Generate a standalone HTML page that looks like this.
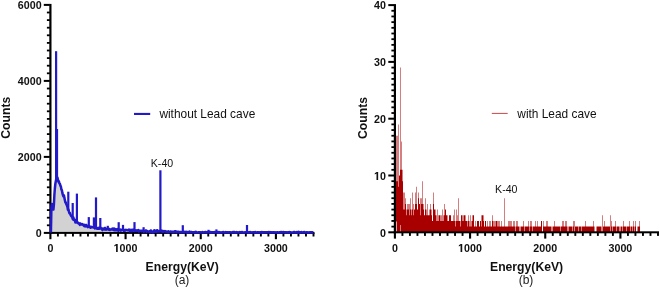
<!DOCTYPE html>
<html><head><meta charset="utf-8"><style>
html,body{margin:0;padding:0;background:#fff;}
body{width:660px;height:289px;overflow:hidden;}
svg{display:block;will-change:transform;}
text{font-family:"Liberation Sans", sans-serif;}

.tk{font-size:10.7px;font-weight:bold;fill:#111;}
.ti{font-size:12.2px;font-weight:bold;fill:#111;}
.lg{font-size:11.9px;fill:#111;}
.sub{font-size:12px;fill:#222;}
.k{font-size:10.6px;fill:#111;}
</style></head><body>
<svg width="660" height="289" viewBox="0 0 660 289">
<polygon points="50.40,232.90 50.90,232.50 51.40,208.00 51.90,204.00 52.40,204.50 52.90,207.50 53.40,209.60 53.90,204.60 54.40,194.50 54.90,188.00 55.40,183.44 55.90,180.67 56.40,178.33 56.90,177.21 57.40,178.29 57.90,179.63 58.40,181.04 58.90,182.46 59.40,183.87 59.90,185.29 60.40,186.71 60.90,188.14 61.40,189.65 61.90,191.26 62.40,192.88 62.90,194.80 63.40,196.39 63.90,197.35 64.40,198.31 64.90,200.20 65.40,202.44 65.90,203.66 66.40,204.87 66.90,206.15 67.40,207.54 67.90,208.92 68.40,210.14 68.90,211.32 69.40,212.50 69.90,213.50 70.40,214.50 70.90,215.44 71.40,216.13 71.90,216.81 72.40,217.50 72.90,218.19 73.40,218.80 73.90,219.30 74.40,219.80 74.90,220.30 75.40,220.80 75.90,221.27 76.40,221.60 76.90,221.93 77.40,222.27 77.90,222.60 78.40,222.93 78.90,223.19 79.40,223.43 79.90,223.68 80.40,223.92 80.90,224.16 81.40,224.40 81.90,224.57 82.40,224.75 82.90,224.92 83.40,225.10 83.90,225.27 84.40,225.44 84.90,225.62 85.40,225.79 85.90,225.97 86.40,226.08 86.90,226.19 87.40,226.29 87.90,226.39 88.40,226.49 88.90,226.60 89.40,226.70 89.90,226.80 90.40,226.91 90.90,227.01 91.40,227.11 91.90,227.21 92.40,227.32 92.90,227.42 93.40,227.51 93.90,227.59 94.40,227.68 94.90,227.77 95.40,227.86 95.90,227.94 96.40,228.03 96.90,228.12 97.40,228.21 97.90,228.29 98.40,228.38 98.90,228.45 99.40,228.51 99.90,228.57 100.40,228.63 100.90,228.70 101.40,228.76 101.90,228.82 102.40,228.88 102.90,228.94 103.40,229.00 103.90,229.06 104.40,229.13 104.90,229.19 105.40,229.22 105.90,229.25 106.40,229.28 106.90,229.31 107.40,229.34 107.90,229.37 108.40,229.40 108.90,229.43 109.40,229.46 109.90,229.49 110.40,229.52 110.90,229.55 111.40,229.58 111.90,229.61 112.40,229.64 112.90,229.67 113.40,229.70 113.90,229.73 114.40,229.76 114.90,229.79 115.40,229.82 115.90,229.84 116.40,229.86 116.90,229.88 117.40,229.90 117.90,229.92 118.40,229.94 118.90,229.96 119.40,229.98 119.90,230.00 120.40,230.02 120.90,230.04 121.40,230.06 121.90,230.08 122.40,230.10 122.90,230.12 123.40,230.14 123.90,230.16 124.40,230.18 124.90,230.20 125.40,230.22 125.90,230.24 126.40,230.26 126.90,230.28 127.40,230.30 127.90,230.32 128.40,230.34 128.90,230.36 129.40,230.38 129.90,230.40 130.40,230.42 130.90,230.44 131.40,230.47 131.90,230.49 132.40,230.51 132.90,230.54 133.40,230.56 133.90,230.58 134.40,230.61 134.90,230.63 135.40,230.65 135.90,230.68 136.40,230.70 136.90,230.72 137.40,230.75 137.90,230.77 138.40,230.79 138.90,230.82 139.40,230.84 139.90,230.86 140.40,230.89 140.90,230.91 141.40,230.93 141.90,230.96 142.40,230.98 142.90,231.00 143.40,231.03 143.90,231.05 144.40,231.07 144.90,231.10 145.40,231.11 145.90,231.12 146.40,231.14 146.90,231.15 147.40,231.16 147.90,231.18 148.40,231.19 148.90,231.20 149.40,231.22 149.90,231.23 150.40,231.24 150.90,231.26 151.40,231.27 151.90,231.28 152.40,231.30 152.90,231.31 153.40,231.32 153.90,231.34 154.40,231.35 154.90,231.36 155.40,231.38 155.90,231.39 156.40,231.40 156.90,231.42 157.40,231.43 157.90,231.44 158.40,231.46 158.90,231.47 159.40,231.48 159.90,231.50 160.40,231.51 160.90,231.52 161.40,231.54 161.90,231.55 162.40,231.56 162.90,231.58 163.40,231.59 163.90,231.60 164.40,231.62 164.90,231.63 165.40,231.64 165.90,231.66 166.40,231.67 166.90,231.68 167.40,231.70 167.90,231.71 168.40,231.72 168.90,231.74 169.40,231.75 169.90,231.76 170.40,231.78 170.90,231.79 171.40,231.80 171.90,231.82 172.40,231.83 172.90,231.84 173.40,231.86 173.90,231.87 174.40,231.88 174.90,231.90 175.40,231.91 175.90,231.92 176.40,231.93 176.90,231.94 177.40,231.95 177.90,231.96 178.40,231.97 178.90,231.98 179.40,231.99 179.90,232.00 180.40,232.01 180.90,232.02 181.40,232.03 181.90,232.04 182.40,232.05 182.90,232.06 183.40,232.07 183.90,232.08 184.40,232.09 184.90,232.10 185.40,232.11 185.90,232.12 186.40,232.13 186.90,232.14 187.40,232.15 187.90,232.16 188.40,232.17 188.90,232.18 189.40,232.19 189.90,232.20 190.40,232.20 190.90,232.20 191.40,232.20 191.90,232.21 192.40,232.21 192.90,232.21 193.40,232.21 193.90,232.21 194.40,232.21 194.90,232.22 195.40,232.22 195.90,232.22 196.40,232.22 196.90,232.22 197.40,232.22 197.90,232.23 198.40,232.23 198.90,232.23 199.40,232.23 199.90,232.23 200.40,232.23 200.90,232.24 201.40,232.24 201.90,232.24 202.40,232.24 202.90,232.24 203.40,232.24 203.90,232.25 204.40,232.25 204.90,232.25 205.40,232.25 205.90,232.25 206.40,232.25 206.90,232.26 207.40,232.26 207.90,232.26 208.40,232.26 208.90,232.26 209.40,232.26 209.90,232.27 210.40,232.27 210.90,232.27 211.40,232.27 211.90,232.27 212.40,232.27 212.90,232.28 213.40,232.28 213.90,232.28 214.40,232.28 214.90,232.28 215.40,232.28 215.90,232.29 216.40,232.29 216.90,232.29 217.40,232.29 217.90,232.29 218.40,232.29 218.90,232.30 219.40,232.30 219.90,232.30 220.40,232.30 220.90,232.30 221.40,232.30 221.90,232.31 222.40,232.31 222.90,232.31 223.40,232.31 223.90,232.31 224.40,232.31 224.90,232.32 225.40,232.32 225.90,232.32 226.40,232.32 226.90,232.32 227.40,232.32 227.90,232.33 228.40,232.33 228.90,232.33 229.40,232.33 229.90,232.33 230.40,232.33 230.90,232.34 231.40,232.34 231.90,232.34 232.40,232.34 232.90,232.34 233.40,232.34 233.90,232.35 234.40,232.35 234.90,232.35 235.40,232.35 235.90,232.35 236.40,232.35 236.90,232.36 237.40,232.36 237.90,232.36 238.40,232.36 238.90,232.36 239.40,232.36 239.90,232.37 240.40,232.37 240.90,232.37 241.40,232.37 241.90,232.37 242.40,232.37 242.90,232.38 243.40,232.38 243.90,232.38 244.40,232.38 244.90,232.38 245.40,232.38 245.90,232.39 246.40,232.39 246.90,232.39 247.40,232.39 247.90,232.39 248.40,232.39 248.90,232.40 249.40,232.40 249.90,232.40 250.40,232.40 250.90,232.40 251.40,232.40 251.90,232.40 252.40,232.40 252.90,232.40 253.40,232.40 253.90,232.40 254.40,232.40 254.90,232.40 255.40,232.40 255.90,232.40 256.40,232.40 256.90,232.40 257.40,232.40 257.90,232.40 258.40,232.40 258.90,232.40 259.40,232.40 259.90,232.40 260.40,232.40 260.90,232.40 261.40,232.40 261.90,232.40 262.40,232.40 262.90,232.40 263.40,232.40 263.90,232.40 264.40,232.40 264.90,232.40 265.40,232.40 265.90,232.40 266.40,232.40 266.90,232.40 267.40,232.40 267.90,232.40 268.40,232.40 268.90,232.40 269.40,232.40 269.90,232.40 270.40,232.40 270.90,232.40 271.40,232.40 271.90,232.40 272.40,232.40 272.90,232.40 273.40,232.40 273.90,232.40 274.40,232.40 274.90,232.40 275.40,232.40 275.90,232.40 276.40,232.40 276.90,232.40 277.40,232.40 277.90,232.40 278.40,232.40 278.90,232.40 279.40,232.40 279.90,232.40 280.40,232.40 280.90,232.40 281.40,232.40 281.90,232.40 282.40,232.40 282.90,232.40 283.40,232.40 283.90,232.40 284.40,232.40 284.90,232.40 285.40,232.40 285.90,232.40 286.40,232.40 286.90,232.40 287.40,232.40 287.90,232.40 288.40,232.40 288.90,232.40 289.40,232.40 289.90,232.40 290.40,232.40 290.90,232.40 291.40,232.40 291.90,232.40 292.40,232.40 292.90,232.40 293.40,232.40 293.90,232.40 294.40,232.40 294.90,232.40 295.40,232.40 295.90,232.40 296.40,232.40 296.90,232.40 297.40,232.40 297.90,232.40 298.40,232.40 298.90,232.40 299.40,232.40 299.90,232.40 300.40,232.40 300.90,232.40 301.40,232.40 301.90,232.40 302.40,232.40 302.90,232.40 303.40,232.40 303.90,232.40 304.40,232.40 304.90,232.40 305.40,232.40 305.90,232.40 306.40,232.40 306.90,232.40 307.40,232.40 307.90,232.40 308.40,232.40 308.90,232.40 309.40,232.40 309.90,232.40 310.40,232.40 310.90,232.40 311.40,232.40 311.90,232.40 312.40,232.40 312.90,232.40 313.40,232.40 313.50,232.90" fill="#d2d2d2"/>
<rect x="49.30" y="3.90" width="2.2" height="230.00" fill="#000"/><rect x="49.30" y="231.90" width="265.20" height="2" fill="#000"/><rect x="43.80" y="231.90" width="6" height="2" fill="#000"/><rect x="43.80" y="155.90" width="6" height="2" fill="#000"/><rect x="43.80" y="79.90" width="6" height="2" fill="#000"/><rect x="43.80" y="3.90" width="6" height="2" fill="#000"/><rect x="46.90" y="224.40" width="3" height="1.8" fill="#000"/><rect x="46.90" y="216.80" width="3" height="1.8" fill="#000"/><rect x="46.90" y="209.20" width="3" height="1.8" fill="#000"/><rect x="46.90" y="201.60" width="3" height="1.8" fill="#000"/><rect x="46.90" y="194.00" width="3" height="1.8" fill="#000"/><rect x="46.90" y="186.40" width="3" height="1.8" fill="#000"/><rect x="46.90" y="178.80" width="3" height="1.8" fill="#000"/><rect x="46.90" y="171.20" width="3" height="1.8" fill="#000"/><rect x="46.90" y="163.60" width="3" height="1.8" fill="#000"/><rect x="46.90" y="148.40" width="3" height="1.8" fill="#000"/><rect x="46.90" y="140.80" width="3" height="1.8" fill="#000"/><rect x="46.90" y="133.20" width="3" height="1.8" fill="#000"/><rect x="46.90" y="125.60" width="3" height="1.8" fill="#000"/><rect x="46.90" y="118.00" width="3" height="1.8" fill="#000"/><rect x="46.90" y="110.40" width="3" height="1.8" fill="#000"/><rect x="46.90" y="102.80" width="3" height="1.8" fill="#000"/><rect x="46.90" y="95.20" width="3" height="1.8" fill="#000"/><rect x="46.90" y="87.60" width="3" height="1.8" fill="#000"/><rect x="46.90" y="72.40" width="3" height="1.8" fill="#000"/><rect x="46.90" y="64.80" width="3" height="1.8" fill="#000"/><rect x="46.90" y="57.20" width="3" height="1.8" fill="#000"/><rect x="46.90" y="49.60" width="3" height="1.8" fill="#000"/><rect x="46.90" y="42.00" width="3" height="1.8" fill="#000"/><rect x="46.90" y="34.40" width="3" height="1.8" fill="#000"/><rect x="46.90" y="26.80" width="3" height="1.8" fill="#000"/><rect x="46.90" y="19.20" width="3" height="1.8" fill="#000"/><rect x="46.90" y="11.60" width="3" height="1.8" fill="#000"/><rect x="49.35" y="232.90" width="2.1" height="6.3" fill="#000"/><rect x="56.97" y="232.90" width="1.9" height="3.6" fill="#000"/><rect x="64.48" y="232.90" width="1.9" height="3.6" fill="#000"/><rect x="72.00" y="232.90" width="1.9" height="3.6" fill="#000"/><rect x="79.52" y="232.90" width="1.9" height="3.6" fill="#000"/><rect x="87.03" y="232.90" width="1.9" height="3.6" fill="#000"/><rect x="94.55" y="232.90" width="1.9" height="3.6" fill="#000"/><rect x="102.07" y="232.90" width="1.9" height="3.6" fill="#000"/><rect x="109.59" y="232.90" width="1.9" height="3.6" fill="#000"/><rect x="117.10" y="232.90" width="1.9" height="3.6" fill="#000"/><rect x="124.52" y="232.90" width="2.1" height="6.3" fill="#000"/><rect x="132.14" y="232.90" width="1.9" height="3.6" fill="#000"/><rect x="139.65" y="232.90" width="1.9" height="3.6" fill="#000"/><rect x="147.17" y="232.90" width="1.9" height="3.6" fill="#000"/><rect x="154.69" y="232.90" width="1.9" height="3.6" fill="#000"/><rect x="162.21" y="232.90" width="1.9" height="3.6" fill="#000"/><rect x="169.72" y="232.90" width="1.9" height="3.6" fill="#000"/><rect x="177.24" y="232.90" width="1.9" height="3.6" fill="#000"/><rect x="184.76" y="232.90" width="1.9" height="3.6" fill="#000"/><rect x="192.27" y="232.90" width="1.9" height="3.6" fill="#000"/><rect x="199.69" y="232.90" width="2.1" height="6.3" fill="#000"/><rect x="207.31" y="232.90" width="1.9" height="3.6" fill="#000"/><rect x="214.82" y="232.90" width="1.9" height="3.6" fill="#000"/><rect x="222.34" y="232.90" width="1.9" height="3.6" fill="#000"/><rect x="229.86" y="232.90" width="1.9" height="3.6" fill="#000"/><rect x="237.38" y="232.90" width="1.9" height="3.6" fill="#000"/><rect x="244.89" y="232.90" width="1.9" height="3.6" fill="#000"/><rect x="252.41" y="232.90" width="1.9" height="3.6" fill="#000"/><rect x="259.93" y="232.90" width="1.9" height="3.6" fill="#000"/><rect x="267.44" y="232.90" width="1.9" height="3.6" fill="#000"/><rect x="274.86" y="232.90" width="2.1" height="6.3" fill="#000"/><rect x="282.48" y="232.90" width="1.9" height="3.6" fill="#000"/><rect x="289.99" y="232.90" width="1.9" height="3.6" fill="#000"/><rect x="297.51" y="232.90" width="1.9" height="3.6" fill="#000"/><rect x="305.03" y="232.90" width="1.9" height="3.6" fill="#000"/><rect x="312.55" y="232.90" width="1.9" height="3.6" fill="#000"/><text x="47.43" y="252.20" class="tk">0</text><path fill="#111" d="M116.07,252.00 L116.07,245.47 L114.35,246.61 L114.35,245.24 L116.23,244.00 L117.72,244.00 L117.72,252.00 Z"/><text x="119.62" y="252.20" class="tk">000</text><text x="188.84" y="252.20" class="tk">2000</text><text x="264.01" y="252.20" class="tk">3000</text><text x="35.65" y="237.10" class="tk">0</text><text x="17.80" y="161.10" class="tk">2000</text><text x="17.80" y="85.10" class="tk">4000</text><text x="17.80" y="9.10" class="tk">6000</text>
<polyline points="50.90,232.50 51.40,208.00 51.90,204.00 52.40,204.50 52.90,207.50 53.40,209.60 53.90,204.60 54.40,194.50 54.90,188.00 55.40,183.44 55.90,180.67 56.40,178.33 56.90,177.21 57.40,177.53 57.90,179.61 58.40,181.61 58.90,181.37 59.40,183.50 59.90,183.75 60.40,185.67 60.90,186.65 61.40,189.46 61.90,190.23 62.40,193.10 62.90,194.93 63.40,196.23 63.90,195.31 64.40,197.88 64.90,200.16 65.40,202.53 65.90,202.42 66.40,204.48 66.90,205.36 67.40,206.88 67.90,209.78 68.40,209.49 68.90,211.30 69.40,213.22 69.90,213.03 70.40,214.41 70.90,215.53 71.40,216.18 71.90,215.82 72.40,217.56 72.90,219.29 73.40,217.55 73.90,220.00 74.40,219.90 74.90,219.78 75.40,222.42 75.90,221.88 76.40,220.63 76.90,221.99 77.40,222.73 77.90,222.45 78.40,223.49 78.90,223.14 79.40,223.97 79.90,224.84 80.40,223.54 80.90,224.27 81.40,224.14 81.90,224.65 82.40,224.08 82.90,224.60 83.40,224.99 83.90,225.78 84.40,226.09 84.90,224.87 85.40,225.34 85.90,226.33 86.40,224.96 86.90,225.92 87.40,226.23 87.90,227.10 88.40,226.88 88.90,226.41 89.40,226.49 89.90,226.66 90.40,227.76 90.90,226.77 91.40,226.94 91.90,227.41 92.40,227.25 92.90,227.31 93.40,226.88 93.90,227.59 94.40,227.43 94.90,228.42 95.40,228.22 95.90,227.93 96.40,228.41 96.90,227.93 97.40,228.80 97.90,228.29 98.40,228.71 98.90,227.72 99.40,228.71 99.90,227.62 100.40,227.49 100.90,228.52 101.40,228.25 101.90,228.91 102.40,230.14 102.90,228.47 103.40,228.65 103.90,229.18 104.40,229.40 104.90,229.09 105.40,229.11 105.90,229.65 106.40,229.58 106.90,228.73 107.40,229.30 107.90,229.39 108.40,228.81 108.90,229.58 109.40,228.98 109.90,230.04 110.40,229.63 110.90,229.60 111.40,229.25 111.90,229.55 112.40,228.52 112.90,229.04 113.40,229.91 113.90,228.54 114.40,230.24 114.90,228.81 115.40,230.24 115.90,229.36 116.40,230.29 116.90,229.95 117.40,229.03 117.90,230.62 118.40,230.75 118.90,229.92 119.40,229.82 119.90,229.91 120.40,229.47 120.90,230.65 121.40,229.75 121.90,230.05 122.40,229.65 122.90,229.76 123.40,229.42 123.90,230.86 124.40,230.09 124.90,230.74 125.40,230.22 125.90,229.85 126.40,230.07 126.90,229.96 127.40,230.30 127.90,230.10 128.40,230.17 128.90,229.58 129.40,229.92 129.90,231.33 130.40,230.04 130.90,229.85 131.40,230.66 131.90,231.28 132.40,229.69 132.90,230.42 133.40,230.20 133.90,229.59 134.40,231.02 134.90,230.62 135.40,230.69 135.90,230.25 136.40,230.95 136.90,230.42 137.40,230.66 137.90,230.15 138.40,230.11 138.90,231.57 139.40,230.55 139.90,231.03 140.40,230.87 140.90,230.66 141.40,230.65 141.90,231.31 142.40,230.81 142.90,230.92 143.40,231.04 143.90,231.71 144.40,231.45 144.90,231.31 145.40,230.79 145.90,230.35 146.40,231.67 146.90,231.69 147.40,231.08 147.90,231.48 148.40,231.63 148.90,231.67 149.40,231.74 149.90,230.97 150.40,232.10 150.90,230.56 151.40,231.76 151.90,231.56 152.40,231.79 152.90,232.37 153.40,232.16 153.90,230.69 154.40,230.40 154.90,231.82 155.40,230.81 155.90,231.38 156.40,231.88 156.90,230.49 157.40,230.24 157.90,231.59 158.40,231.48 158.90,231.33 159.40,231.51 159.90,231.01 160.40,230.66 160.90,231.43 161.40,230.99 161.90,230.63 162.40,231.85 162.90,231.54 163.40,231.82 163.90,231.05 164.40,231.25 164.90,231.07 165.40,231.44 165.90,231.70 166.40,231.49 166.90,231.76 167.40,231.77 167.90,232.17 168.40,231.41 168.90,231.94 169.40,231.73 169.90,231.76 170.40,231.45 170.90,231.69 171.40,231.97 171.90,231.80 172.40,231.85 172.90,231.78 173.40,232.12 173.90,231.87 174.40,231.39 174.90,231.74 175.40,231.47 175.90,231.19 176.40,231.81 176.90,232.24 177.40,231.96 177.90,231.69 178.40,231.76 178.90,232.23 179.40,232.02 179.90,232.01 180.40,232.00 180.90,232.03 181.40,232.21 181.90,232.16 182.40,232.10 182.90,231.82 183.40,232.18 183.90,231.92 184.40,232.33 184.90,231.81 185.40,232.08 185.90,232.12 186.40,231.83 186.90,232.53 187.40,232.48 187.90,232.05 188.40,232.34 188.90,232.26 189.40,231.60 189.90,232.25 190.40,232.19 190.90,232.22 191.40,231.96 191.90,232.15 192.40,232.17 192.90,232.48 193.40,232.29 193.90,232.21 194.40,232.56 194.90,232.09 195.40,232.13 195.90,231.81 196.40,232.57 196.90,232.44 197.40,232.43 197.90,232.38 198.40,232.25 198.90,232.28 199.40,232.17 199.90,232.19 200.40,232.25 200.90,232.58 201.40,232.36 201.90,232.23 202.40,232.11 202.90,232.10 203.40,232.60 203.90,232.36 204.40,232.26 204.90,232.17 205.40,232.00 205.90,232.24 206.40,232.45 206.90,232.17 207.40,232.21 207.90,232.21 208.40,232.29 208.90,231.90 209.40,232.21 209.90,232.07 210.40,232.47 210.90,232.10 211.40,232.40 211.90,232.60 212.40,232.20 212.90,232.14 213.40,232.32 213.90,232.28 214.40,232.06 214.90,232.39 215.40,232.60 215.90,232.23 216.40,232.24 216.90,232.05 217.40,232.36 217.90,232.01 218.40,232.05 218.90,232.58 219.40,232.09 219.90,232.54 220.40,232.60 220.90,232.36 221.40,232.43 221.90,232.60 222.40,232.26 222.90,232.18 223.40,232.01 223.90,232.32 224.40,232.60 224.90,232.53 225.40,232.11 225.90,232.13 226.40,232.21 226.90,232.39 227.40,232.28 227.90,232.37 228.40,232.39 228.90,232.26 229.40,232.32 229.90,232.38 230.40,232.32 230.90,232.45 231.40,232.60 231.90,232.47 232.40,232.35 232.90,231.96 233.40,232.43 233.90,231.91 234.40,232.03 234.90,232.54 235.40,232.51 235.90,232.32 236.40,231.97 236.90,232.27 237.40,232.21 237.90,232.50 238.40,232.60 238.90,232.41 239.40,232.19 239.90,232.10 240.40,232.36 240.90,232.33 241.40,232.11 241.90,232.40 242.40,232.12 242.90,232.60 243.40,232.60 243.90,232.60 244.40,232.27 244.90,232.50 245.40,232.35 245.90,232.30 246.40,232.31 246.90,232.10 247.40,232.07 247.90,232.57 248.40,232.35 248.90,232.45 249.40,232.60 249.90,232.01 250.40,232.22 250.90,232.44 251.40,232.49 251.90,232.32 252.40,232.60 252.90,232.45 253.40,232.13 253.90,232.19 254.40,232.58 254.90,232.50 255.40,231.97 255.90,232.60 256.40,232.53 256.90,232.60 257.40,232.31 257.90,232.33 258.40,232.15 258.90,232.60 259.40,232.36 259.90,232.60 260.40,232.25 260.90,232.44 261.40,232.02 261.90,232.31 262.40,232.60 262.90,232.12 263.40,232.60 263.90,232.48 264.40,232.17 264.90,232.29 265.40,232.30 265.90,232.39 266.40,232.28 266.90,232.21 267.40,232.33 267.90,232.17 268.40,232.11 268.90,232.39 269.40,232.60 269.90,232.06 270.40,232.40 270.90,232.25 271.40,232.18 271.90,232.59 272.40,232.28 272.90,232.60 273.40,232.22 273.90,232.49 274.40,232.35 274.90,232.23 275.40,232.53 275.90,232.37 276.40,232.54 276.90,232.39 277.40,232.16 277.90,232.38 278.40,232.41 278.90,232.60 279.40,232.20 279.90,232.39 280.40,232.01 280.90,232.55 281.40,232.16 281.90,231.99 282.40,232.39 282.90,232.60 283.40,232.06 283.90,232.16 284.40,232.23 284.90,232.15 285.40,232.49 285.90,232.22 286.40,232.24 286.90,232.53 287.40,232.23 287.90,232.50 288.40,232.18 288.90,232.13 289.40,231.99 289.90,232.60 290.40,232.33 290.90,232.45 291.40,232.39 291.90,232.44 292.40,232.41 292.90,232.60 293.40,232.17 293.90,232.05 294.40,232.17 294.90,232.10 295.40,232.57 295.90,232.58 296.40,232.18 296.90,232.09 297.40,232.32 297.90,232.60 298.40,231.77 298.90,232.52 299.40,232.16 299.90,232.60 300.40,232.16 300.90,232.34 301.40,232.06 301.90,232.18 302.40,232.60 302.90,232.58 303.40,232.31 303.90,232.20 304.40,231.97 304.90,232.31 305.40,232.39 305.90,232.38 306.40,232.38 306.90,232.15 307.40,232.39 307.90,232.39 308.40,232.60 308.90,232.60 309.40,232.37 309.90,232.23 310.40,232.39 310.90,232.26 311.40,232.23 311.90,232.39 312.40,232.17 312.90,232.54 313.40,232.38" fill="none" stroke="#2219c8" stroke-width="2.5" stroke-linejoin="round"/><rect x="55.00" y="51.20" width="2.2" height="128.86" fill="#2219c8"/><rect x="55.90" y="129.00" width="2.2" height="48.93" fill="#2219c8"/><rect x="67.20" y="191.70" width="2.2" height="18.71" fill="#2219c8"/><rect x="71.60" y="203.00" width="2.2" height="15.41" fill="#2219c8"/><rect x="75.80" y="193.60" width="2.2" height="28.83" fill="#2219c8"/><rect x="87.70" y="217.10" width="2.2" height="9.98" fill="#2219c8"/><rect x="92.80" y="217.40" width="2.2" height="10.69" fill="#2219c8"/><rect x="94.90" y="197.40" width="2.2" height="31.06" fill="#2219c8"/><rect x="99.20" y="218.00" width="2.2" height="11.12" fill="#2219c8"/><rect x="103.90" y="226.80" width="2.2" height="2.90" fill="#2219c8"/><rect x="106.70" y="225.80" width="2.2" height="4.07" fill="#2219c8"/><rect x="117.60" y="222.20" width="2.2" height="8.25" fill="#2219c8"/><rect x="121.90" y="224.90" width="2.2" height="5.72" fill="#2219c8"/><rect x="133.40" y="222.10" width="2.2" height="9.01" fill="#2219c8"/><rect x="142.50" y="227.20" width="2.2" height="4.33" fill="#2219c8"/><rect x="159.30" y="170.30" width="2.2" height="61.71" fill="#2219c8"/><rect x="181.70" y="225.20" width="2.2" height="7.36" fill="#2219c8"/><rect x="207.40" y="229.80" width="2.2" height="2.96" fill="#2219c8"/><rect x="215.30" y="229.40" width="2.2" height="3.39" fill="#2219c8"/><rect x="245.90" y="225.00" width="2.2" height="7.89" fill="#2219c8"/>
<text x="182.2" y="270.9" text-anchor="middle" class="ti">Energy(KeV)</text>
<text x="182" y="284" text-anchor="middle" class="sub">(a)</text>
<text transform="translate(9.6,117.7) rotate(-90)" text-anchor="middle" class="ti">Counts</text>
<rect x="134" y="112.9" width="16.2" height="2.1" fill="#2219c8"/>
<text x="159.4" y="117.6" class="lg">without Lead cave</text>
<text x="162" y="166.5" text-anchor="middle" class="k">K-40</text>
<path fill="#a80000" d="M395.50,232.30L395.50,175.50L396.00,175.50L396.00,135.74L396.50,135.74L396.50,181.18L397.00,181.18L397.00,135.74L397.50,135.74L397.50,181.18L398.00,181.18L398.00,186.86L398.50,186.86L398.50,124.38L399.00,124.38L399.00,175.50L399.50,175.50L399.50,175.50L400.00,175.50L400.00,169.82L400.50,169.82L400.50,67.58L401.00,67.58L401.00,169.82L401.50,169.82L401.50,141.42L402.00,141.42L402.00,169.82L402.50,169.82L402.50,181.18L403.00,181.18L403.00,192.54L403.50,192.54L403.50,209.58L404.00,209.58L404.00,192.54L404.50,192.54L404.50,209.58L405.00,209.58L405.00,198.22L405.50,198.22L405.50,203.90L406.00,203.90L406.00,209.58L406.50,209.58L406.50,215.26L407.00,215.26L407.00,209.58L407.50,209.58L407.50,203.90L408.00,203.90L408.00,203.90L408.50,203.90L408.50,209.58L409.00,209.58L409.00,215.26L409.50,215.26L409.50,203.90L410.00,203.90L410.00,209.58L410.50,209.58L410.50,198.22L411.00,198.22L411.00,209.58L411.50,209.58L411.50,215.26L412.00,215.26L412.00,192.54L412.50,192.54L412.50,209.58L413.00,209.58L413.00,215.26L413.50,215.26L413.50,203.90L414.00,203.90L414.00,209.58L414.50,209.58L414.50,209.58L415.00,209.58L415.00,203.90L415.50,203.90L415.50,192.54L416.00,192.54L416.00,203.90L416.50,203.90L416.50,186.86L417.00,186.86L417.00,209.58L417.50,209.58L417.50,209.58L418.00,209.58L418.00,198.22L418.50,198.22L418.50,192.54L419.00,192.54L419.00,203.90L419.50,203.90L419.50,203.90L420.00,203.90L420.00,215.26L420.50,215.26L420.50,198.22L421.00,198.22L421.00,203.90L421.50,203.90L421.50,198.22L422.00,198.22L422.00,203.90L422.50,203.90L422.50,181.18L423.00,181.18L423.00,209.58L423.50,209.58L423.50,203.90L424.00,203.90L424.00,215.26L424.50,215.26L424.50,215.26L425.00,215.26L425.00,209.58L425.50,209.58L425.50,198.22L426.00,198.22L426.00,215.26L426.50,215.26L426.50,209.58L427.00,209.58L427.00,215.26L427.50,215.26L427.50,203.90L428.00,203.90L428.00,215.26L428.50,215.26L428.50,215.26L429.00,215.26L429.00,215.26L429.50,215.26L429.50,209.58L430.00,209.58L430.00,203.90L430.50,203.90L430.50,209.58L431.00,209.58L431.00,215.26L431.50,215.26L431.50,209.58L432.00,209.58L432.00,220.94L432.50,220.94L432.50,220.94L433.00,220.94L433.00,203.90L433.50,203.90L433.50,192.54L434.00,192.54L434.00,209.58L434.50,209.58L434.50,209.58L435.00,209.58L435.00,215.26L435.50,215.26L435.50,209.58L436.00,209.58L436.00,215.26L436.50,215.26L436.50,220.94L437.00,220.94L437.00,220.94L437.50,220.94L437.50,209.58L438.00,209.58L438.00,220.94L438.50,220.94L438.50,215.26L439.00,215.26L439.00,215.26L439.50,215.26L439.50,215.26L440.00,215.26L440.00,220.94L440.50,220.94L440.50,215.26L441.00,215.26L441.00,220.94L441.50,220.94L441.50,215.26L442.00,215.26L442.00,220.94L442.50,220.94L442.50,209.58L443.00,209.58L443.00,220.94L443.50,220.94L443.50,215.26L444.00,215.26L444.00,203.90L444.50,203.90L444.50,215.26L445.00,215.26L445.00,209.58L445.50,209.58L445.50,209.58L446.00,209.58L446.00,215.26L446.50,215.26L446.50,215.26L447.00,215.26L447.00,220.94L447.50,220.94L447.50,215.26L448.00,215.26L448.00,220.94L448.50,220.94L448.50,220.94L449.00,220.94L449.00,215.26L449.50,215.26L449.50,215.26L450.00,215.26L450.00,215.26L450.50,215.26L450.50,215.26L451.00,215.26L451.00,220.94L451.50,220.94L451.50,220.94L452.00,220.94L452.00,220.94L452.50,220.94L452.50,220.94L453.00,220.94L453.00,220.94L453.50,220.94L453.50,215.26L454.00,215.26L454.00,220.94L454.50,220.94L454.50,209.58L455.00,209.58L455.00,220.94L455.50,220.94L455.50,226.62L456.00,226.62L456.00,220.94L456.50,220.94L456.50,209.58L457.00,209.58L457.00,215.26L457.50,215.26L457.50,220.94L458.00,220.94L458.00,198.22L458.50,198.22L458.50,220.94L459.00,220.94L459.00,220.94L459.50,220.94L459.50,220.94L460.00,220.94L460.00,226.62L460.50,226.62L460.50,220.94L461.00,220.94L461.00,215.26L461.50,215.26L461.50,215.26L462.00,215.26L462.00,220.94L462.50,220.94L462.50,215.26L463.00,215.26L463.00,215.26L463.50,215.26L463.50,220.94L464.00,220.94L464.00,215.26L464.50,215.26L464.50,215.26L465.00,215.26L465.00,215.26L465.50,215.26L465.50,220.94L466.00,220.94L466.00,220.94L466.50,220.94L466.50,220.94L467.00,220.94L467.00,220.94L467.50,220.94L467.50,226.62L468.00,226.62L468.00,220.94L468.50,220.94L468.50,215.26L469.00,215.26L469.00,220.94L469.50,220.94L469.50,226.62L470.00,226.62L470.00,215.26L470.50,215.26L470.50,226.62L471.00,226.62L471.00,226.62L471.50,226.62L471.50,220.94L472.00,220.94L472.00,220.94L472.50,220.94L472.50,215.26L473.00,215.26L473.00,215.26L473.50,215.26L473.50,215.26L474.00,215.26L474.00,226.62L474.50,226.62L474.50,226.62L475.00,226.62L475.00,226.62L475.50,226.62L475.50,220.94L476.00,220.94L476.00,226.62L476.50,226.62L476.50,226.62L477.00,226.62L477.00,220.94L477.50,220.94L477.50,220.94L478.00,220.94L478.00,220.94L478.50,220.94L478.50,220.94L479.00,220.94L479.00,226.62L479.50,226.62L479.50,226.62L480.00,226.62L480.00,220.94L480.50,220.94L480.50,220.94L481.00,220.94L481.00,215.26L481.50,215.26L481.50,226.62L482.00,226.62L482.00,215.26L482.50,215.26L482.50,215.26L483.00,215.26L483.00,220.94L483.50,220.94L483.50,215.26L484.00,215.26L484.00,226.62L484.50,226.62L484.50,226.62L485.00,226.62L485.00,220.94L485.50,220.94L485.50,220.94L486.00,220.94L486.00,226.62L486.50,226.62L486.50,226.62L487.00,226.62L487.00,226.62L487.50,226.62L487.50,220.94L488.00,220.94L488.00,226.62L488.50,226.62L488.50,226.62L489.00,226.62L489.00,220.94L489.50,220.94L489.50,226.62L490.00,226.62L490.00,220.94L490.50,220.94L490.50,226.62L491.00,226.62L491.00,226.62L491.50,226.62L491.50,226.62L492.00,226.62L492.00,215.26L492.50,215.26L492.50,220.94L493.00,220.94L493.00,226.62L493.50,226.62L493.50,220.94L494.00,220.94L494.00,220.94L494.50,220.94L494.50,226.62L495.00,226.62L495.00,220.94L495.50,220.94L495.50,226.62L496.00,226.62L496.00,220.94L496.50,220.94L496.50,220.94L497.00,220.94L497.00,220.94L497.50,220.94L497.50,226.62L498.00,226.62L498.00,226.62L498.50,226.62L498.50,220.94L499.00,220.94L499.00,220.94L499.50,220.94L499.50,226.62L500.00,226.62L500.00,226.62L500.50,226.62L500.50,226.62L501.00,226.62L501.00,220.94L501.50,220.94L501.50,226.62L502.00,226.62L502.00,226.62L502.50,226.62L502.50,226.62L503.00,226.62L503.00,226.62L503.50,226.62L503.50,226.62L504.00,226.62L504.00,198.22L504.50,198.22L504.50,226.62L505.00,226.62L505.00,226.62L505.50,226.62L505.50,226.62L506.00,226.62L506.00,226.62L506.50,226.62L506.50,226.62L507.00,226.62L507.00,226.62L507.50,226.62L507.50,226.62L508.00,226.62L508.00,220.94L508.50,220.94L508.50,226.62L509.00,226.62L509.00,220.94L509.50,220.94L509.50,226.62L510.00,226.62L510.00,220.94L510.50,220.94L510.50,226.62L511.00,226.62L511.00,226.62L511.50,226.62L511.50,220.94L512.00,220.94L512.00,226.62L512.50,226.62L512.50,226.62L513.00,226.62L513.00,226.62L513.50,226.62L513.50,220.94L514.00,220.94L514.00,226.62L514.50,226.62L514.50,220.94L515.00,220.94L515.00,226.62L515.50,226.62L515.50,232.30L516.00,232.30L516.00,226.62L516.50,226.62L516.50,220.94L517.00,220.94L517.00,226.62L517.50,226.62L517.50,220.94L518.00,220.94L518.00,226.62L518.50,226.62L518.50,226.62L519.00,226.62L519.00,226.62L519.50,226.62L519.50,232.30L520.00,232.30L520.00,226.62L520.50,226.62L520.50,232.30L521.00,232.30L521.00,226.62L521.50,226.62L521.50,226.62L522.00,226.62L522.00,226.62L522.50,226.62L522.50,226.62L523.00,226.62L523.00,220.94L523.50,220.94L523.50,226.62L524.00,226.62L524.00,232.30L524.50,232.30L524.50,226.62L525.00,226.62L525.00,226.62L525.50,226.62L525.50,226.62L526.00,226.62L526.00,226.62L526.50,226.62L526.50,226.62L527.00,226.62L527.00,226.62L527.50,226.62L527.50,226.62L528.00,226.62L528.00,226.62L528.50,226.62L528.50,220.94L529.00,220.94L529.00,226.62L529.50,226.62L529.50,232.30L530.00,232.30L530.00,220.94L530.50,220.94L530.50,226.62L531.00,226.62L531.00,226.62L531.50,226.62L531.50,220.94L532.00,220.94L532.00,226.62L532.50,226.62L532.50,232.30L533.00,232.30L533.00,226.62L533.50,226.62L533.50,226.62L534.00,226.62L534.00,226.62L534.50,226.62L534.50,226.62L535.00,226.62L535.00,226.62L535.50,226.62L535.50,220.94L536.00,220.94L536.00,226.62L536.50,226.62L536.50,226.62L537.00,226.62L537.00,226.62L537.50,226.62L537.50,220.94L538.00,220.94L538.00,226.62L538.50,226.62L538.50,226.62L539.00,226.62L539.00,226.62L539.50,226.62L539.50,226.62L540.00,226.62L540.00,226.62L540.50,226.62L540.50,226.62L541.00,226.62L541.00,220.94L541.50,220.94L541.50,220.94L542.00,220.94L542.00,232.30L542.50,232.30L542.50,232.30L543.00,232.30L543.00,220.94L543.50,220.94L543.50,226.62L544.00,226.62L544.00,226.62L544.50,226.62L544.50,226.62L545.00,226.62L545.00,226.62L545.50,226.62L545.50,226.62L546.00,226.62L546.00,220.94L546.50,220.94L546.50,226.62L547.00,226.62L547.00,226.62L547.50,226.62L547.50,220.94L548.00,220.94L548.00,226.62L548.50,226.62L548.50,226.62L549.00,226.62L549.00,226.62L549.50,226.62L549.50,226.62L550.00,226.62L550.00,226.62L550.50,226.62L550.50,226.62L551.00,226.62L551.00,226.62L551.50,226.62L551.50,232.30L552.00,232.30L552.00,226.62L552.50,226.62L552.50,232.30L553.00,232.30L553.00,226.62L553.50,226.62L553.50,226.62L554.00,226.62L554.00,220.94L554.50,220.94L554.50,226.62L555.00,226.62L555.00,226.62L555.50,226.62L555.50,226.62L556.00,226.62L556.00,226.62L556.50,226.62L556.50,226.62L557.00,226.62L557.00,226.62L557.50,226.62L557.50,226.62L558.00,226.62L558.00,226.62L558.50,226.62L558.50,226.62L559.00,226.62L559.00,226.62L559.50,226.62L559.50,226.62L560.00,226.62L560.00,232.30L560.50,232.30L560.50,226.62L561.00,226.62L561.00,226.62L561.50,226.62L561.50,226.62L562.00,226.62L562.00,226.62L562.50,226.62L562.50,220.94L563.00,220.94L563.00,226.62L563.50,226.62L563.50,220.94L564.00,220.94L564.00,226.62L564.50,226.62L564.50,226.62L565.00,226.62L565.00,220.94L565.50,220.94L565.50,226.62L566.00,226.62L566.00,226.62L566.50,226.62L566.50,220.94L567.00,220.94L567.00,226.62L567.50,226.62L567.50,232.30L568.00,232.30L568.00,232.30L568.50,232.30L568.50,226.62L569.00,226.62L569.00,226.62L569.50,226.62L569.50,226.62L570.00,226.62L570.00,226.62L570.50,226.62L570.50,226.62L571.00,226.62L571.00,226.62L571.50,226.62L571.50,226.62L572.00,226.62L572.00,226.62L572.50,226.62L572.50,232.30L573.00,232.30L573.00,226.62L573.50,226.62L573.50,220.94L574.00,220.94L574.00,220.94L574.50,220.94L574.50,232.30L575.00,232.30L575.00,226.62L575.50,226.62L575.50,226.62L576.00,226.62L576.00,226.62L576.50,226.62L576.50,226.62L577.00,226.62L577.00,226.62L577.50,226.62L577.50,226.62L578.00,226.62L578.00,232.30L578.50,232.30L578.50,226.62L579.00,226.62L579.00,226.62L579.50,226.62L579.50,226.62L580.00,226.62L580.00,226.62L580.50,226.62L580.50,226.62L581.00,226.62L581.00,226.62L581.50,226.62L581.50,232.30L582.00,232.30L582.00,226.62L582.50,226.62L582.50,226.62L583.00,226.62L583.00,226.62L583.50,226.62L583.50,226.62L584.00,226.62L584.00,226.62L584.50,226.62L584.50,226.62L585.00,226.62L585.00,226.62L585.50,226.62L585.50,220.94L586.00,220.94L586.00,226.62L586.50,226.62L586.50,226.62L587.00,226.62L587.00,226.62L587.50,226.62L587.50,226.62L588.00,226.62L588.00,226.62L588.50,226.62L588.50,226.62L589.00,226.62L589.00,226.62L589.50,226.62L589.50,226.62L590.00,226.62L590.00,226.62L590.50,226.62L590.50,226.62L591.00,226.62L591.00,226.62L591.50,226.62L591.50,226.62L592.00,226.62L592.00,226.62L592.50,226.62L592.50,226.62L593.00,226.62L593.00,226.62L593.50,226.62L593.50,220.94L594.00,220.94L594.00,232.30L594.50,232.30L594.50,226.62L595.00,226.62L595.00,232.30L595.50,232.30L595.50,232.30L596.00,232.30L596.00,226.62L596.50,226.62L596.50,232.30L597.00,232.30L597.00,226.62L597.50,226.62L597.50,226.62L598.00,226.62L598.00,226.62L598.50,226.62L598.50,226.62L599.00,226.62L599.00,226.62L599.50,226.62L599.50,226.62L600.00,226.62L600.00,226.62L600.50,226.62L600.50,226.62L601.00,226.62L601.00,232.30L601.50,232.30L601.50,226.62L602.00,226.62L602.00,232.30L602.50,232.30L602.50,215.26L603.00,215.26L603.00,226.62L603.50,226.62L603.50,226.62L604.00,226.62L604.00,220.94L604.50,220.94L604.50,226.62L605.00,226.62L605.00,226.62L605.50,226.62L605.50,226.62L606.00,226.62L606.00,226.62L606.50,226.62L606.50,226.62L607.00,226.62L607.00,226.62L607.50,226.62L607.50,226.62L608.00,226.62L608.00,226.62L608.50,226.62L608.50,226.62L609.00,226.62L609.00,226.62L609.50,226.62L609.50,226.62L610.00,226.62L610.00,232.30L610.50,232.30L610.50,215.26L611.00,215.26L611.00,226.62L611.50,226.62L611.50,220.94L612.00,220.94L612.00,232.30L612.50,232.30L612.50,226.62L613.00,226.62L613.00,226.62L613.50,226.62L613.50,226.62L614.00,226.62L614.00,226.62L614.50,226.62L614.50,226.62L615.00,226.62L615.00,226.62L615.50,226.62L615.50,220.94L616.00,220.94L616.00,226.62L616.50,226.62L616.50,232.30L617.00,232.30L617.00,226.62L617.50,226.62L617.50,226.62L618.00,226.62L618.00,226.62L618.50,226.62L618.50,226.62L619.00,226.62L619.00,232.30L619.50,232.30L619.50,226.62L620.00,226.62L620.00,232.30L620.50,232.30L620.50,226.62L621.00,226.62L621.00,226.62L621.50,226.62L621.50,226.62L622.00,226.62L622.00,226.62L622.50,226.62L622.50,232.30L623.00,232.30L623.00,220.94L623.50,220.94L623.50,226.62L624.00,226.62L624.00,226.62L624.50,226.62L624.50,226.62L625.00,226.62L625.00,226.62L625.50,226.62L625.50,226.62L626.00,226.62L626.00,226.62L626.50,226.62L626.50,232.30L627.00,232.30L627.00,226.62L627.50,226.62L627.50,226.62L628.00,226.62L628.00,226.62L628.50,226.62L628.50,226.62L629.00,226.62L629.00,226.62L629.50,226.62L629.50,220.94L630.00,220.94L630.00,226.62L630.50,226.62L630.50,232.30L631.00,232.30L631.00,226.62L631.50,226.62L631.50,226.62L632.00,226.62L632.00,226.62L632.50,226.62L632.50,232.30L633.00,232.30L633.00,226.62L633.50,226.62L633.50,220.94L634.00,220.94L634.00,232.30L634.50,232.30L634.50,226.62L635.00,226.62L635.00,226.62L635.50,226.62L635.50,220.94L636.00,220.94L636.00,232.30L636.50,232.30L636.50,232.30L637.00,232.30L637.00,232.30L637.50,232.30L637.50,226.62L638.00,226.62L638.00,226.62L638.50,226.62L638.50,226.62L639.00,226.62L639.00,226.62L639.50,226.62L639.50,220.94L640.00,220.94L640.00,232.30Z"/><rect x="396.1" y="221.5" width="0.8" height="10.5" fill="#f0d0d0"/><rect x="400.0" y="225" width="0.6" height="7" fill="#f0d0d0"/>
<rect x="393.80" y="4.10" width="2.2" height="229.20" fill="#000"/><rect x="393.80" y="231.30" width="265.20" height="2" fill="#000"/><rect x="388.30" y="231.30" width="6" height="2" fill="#000"/><rect x="388.30" y="174.50" width="6" height="2" fill="#000"/><rect x="388.30" y="117.70" width="6" height="2" fill="#000"/><rect x="388.30" y="60.90" width="6" height="2" fill="#000"/><rect x="388.30" y="4.10" width="6" height="2" fill="#000"/><rect x="391.40" y="225.72" width="3" height="1.8" fill="#000"/><rect x="391.40" y="220.04" width="3" height="1.8" fill="#000"/><rect x="391.40" y="214.36" width="3" height="1.8" fill="#000"/><rect x="391.40" y="208.68" width="3" height="1.8" fill="#000"/><rect x="391.40" y="203.00" width="3" height="1.8" fill="#000"/><rect x="391.40" y="197.32" width="3" height="1.8" fill="#000"/><rect x="391.40" y="191.64" width="3" height="1.8" fill="#000"/><rect x="391.40" y="185.96" width="3" height="1.8" fill="#000"/><rect x="391.40" y="180.28" width="3" height="1.8" fill="#000"/><rect x="391.40" y="168.92" width="3" height="1.8" fill="#000"/><rect x="391.40" y="163.24" width="3" height="1.8" fill="#000"/><rect x="391.40" y="157.56" width="3" height="1.8" fill="#000"/><rect x="391.40" y="151.88" width="3" height="1.8" fill="#000"/><rect x="391.40" y="146.20" width="3" height="1.8" fill="#000"/><rect x="391.40" y="140.52" width="3" height="1.8" fill="#000"/><rect x="391.40" y="134.84" width="3" height="1.8" fill="#000"/><rect x="391.40" y="129.16" width="3" height="1.8" fill="#000"/><rect x="391.40" y="123.48" width="3" height="1.8" fill="#000"/><rect x="391.40" y="112.12" width="3" height="1.8" fill="#000"/><rect x="391.40" y="106.44" width="3" height="1.8" fill="#000"/><rect x="391.40" y="100.76" width="3" height="1.8" fill="#000"/><rect x="391.40" y="95.08" width="3" height="1.8" fill="#000"/><rect x="391.40" y="89.40" width="3" height="1.8" fill="#000"/><rect x="391.40" y="83.72" width="3" height="1.8" fill="#000"/><rect x="391.40" y="78.04" width="3" height="1.8" fill="#000"/><rect x="391.40" y="72.36" width="3" height="1.8" fill="#000"/><rect x="391.40" y="66.68" width="3" height="1.8" fill="#000"/><rect x="391.40" y="55.32" width="3" height="1.8" fill="#000"/><rect x="391.40" y="49.64" width="3" height="1.8" fill="#000"/><rect x="391.40" y="43.96" width="3" height="1.8" fill="#000"/><rect x="391.40" y="38.28" width="3" height="1.8" fill="#000"/><rect x="391.40" y="32.60" width="3" height="1.8" fill="#000"/><rect x="391.40" y="26.92" width="3" height="1.8" fill="#000"/><rect x="391.40" y="21.24" width="3" height="1.8" fill="#000"/><rect x="391.40" y="15.56" width="3" height="1.8" fill="#000"/><rect x="391.40" y="9.88" width="3" height="1.8" fill="#000"/><rect x="393.85" y="232.30" width="2.1" height="6.3" fill="#000"/><rect x="401.47" y="232.30" width="1.9" height="3.6" fill="#000"/><rect x="408.98" y="232.30" width="1.9" height="3.6" fill="#000"/><rect x="416.50" y="232.30" width="1.9" height="3.6" fill="#000"/><rect x="424.02" y="232.30" width="1.9" height="3.6" fill="#000"/><rect x="431.53" y="232.30" width="1.9" height="3.6" fill="#000"/><rect x="439.05" y="232.30" width="1.9" height="3.6" fill="#000"/><rect x="446.57" y="232.30" width="1.9" height="3.6" fill="#000"/><rect x="454.09" y="232.30" width="1.9" height="3.6" fill="#000"/><rect x="461.60" y="232.30" width="1.9" height="3.6" fill="#000"/><rect x="469.02" y="232.30" width="2.1" height="6.3" fill="#000"/><rect x="476.64" y="232.30" width="1.9" height="3.6" fill="#000"/><rect x="484.15" y="232.30" width="1.9" height="3.6" fill="#000"/><rect x="491.67" y="232.30" width="1.9" height="3.6" fill="#000"/><rect x="499.19" y="232.30" width="1.9" height="3.6" fill="#000"/><rect x="506.70" y="232.30" width="1.9" height="3.6" fill="#000"/><rect x="514.22" y="232.30" width="1.9" height="3.6" fill="#000"/><rect x="521.74" y="232.30" width="1.9" height="3.6" fill="#000"/><rect x="529.26" y="232.30" width="1.9" height="3.6" fill="#000"/><rect x="536.77" y="232.30" width="1.9" height="3.6" fill="#000"/><rect x="544.19" y="232.30" width="2.1" height="6.3" fill="#000"/><rect x="551.81" y="232.30" width="1.9" height="3.6" fill="#000"/><rect x="559.32" y="232.30" width="1.9" height="3.6" fill="#000"/><rect x="566.84" y="232.30" width="1.9" height="3.6" fill="#000"/><rect x="574.36" y="232.30" width="1.9" height="3.6" fill="#000"/><rect x="581.88" y="232.30" width="1.9" height="3.6" fill="#000"/><rect x="589.39" y="232.30" width="1.9" height="3.6" fill="#000"/><rect x="596.91" y="232.30" width="1.9" height="3.6" fill="#000"/><rect x="604.43" y="232.30" width="1.9" height="3.6" fill="#000"/><rect x="611.94" y="232.30" width="1.9" height="3.6" fill="#000"/><rect x="619.36" y="232.30" width="2.1" height="6.3" fill="#000"/><rect x="626.98" y="232.30" width="1.9" height="3.6" fill="#000"/><rect x="634.49" y="232.30" width="1.9" height="3.6" fill="#000"/><rect x="642.01" y="232.30" width="1.9" height="3.6" fill="#000"/><rect x="649.53" y="232.30" width="1.9" height="3.6" fill="#000"/><rect x="657.04" y="232.30" width="1.9" height="3.6" fill="#000"/><text x="391.93" y="252.20" class="tk">0</text><path fill="#111" d="M460.57,252.00 L460.57,245.47 L458.85,246.61 L458.85,245.24 L460.73,244.00 L462.22,244.00 L462.22,252.00 Z"/><text x="464.12" y="252.20" class="tk">000</text><text x="533.34" y="252.20" class="tk">2000</text><text x="608.51" y="252.20" class="tk">3000</text><text x="380.05" y="236.50" class="tk">0</text><path fill="#111" d="M376.50,180.00 L376.50,173.47 L374.78,174.61 L374.78,173.24 L376.66,172.00 L378.15,172.00 L378.15,180.00 Z"/><text x="380.05" y="179.70" class="tk">0</text><text x="374.10" y="122.90" class="tk">20</text><text x="374.10" y="66.10" class="tk">30</text><text x="374.10" y="9.30" class="tk">40</text>
<text x="526.6" y="270.6" text-anchor="middle" class="ti">Energy(KeV)</text>
<text x="526" y="284" text-anchor="middle" class="sub">(b)</text>
<text transform="translate(366.8,118) rotate(-90)" text-anchor="middle" class="ti">Counts</text>
<rect x="491.8" y="112.9" width="15.9" height="1" fill="#c84848"/>
<text x="517.3" y="117.5" class="lg">with Lead cave</text>
<text x="506.3" y="193" text-anchor="middle" class="k">K-40</text>
</svg>
</body></html>
